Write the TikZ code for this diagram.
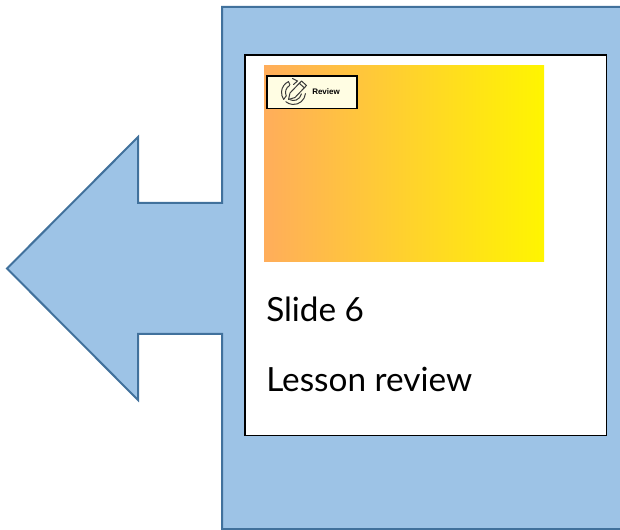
\documentclass[tikz,border=0pt]{standalone}
\usepackage{fontspec}
\setmainfont{Lato}
\newfontfamily\reviewfont{Liberation Sans}
\definecolor{panelfill}{HTML}{9DC3E6}
\definecolor{paneledge}{HTML}{41719C}
\definecolor{gradleft}{HTML}{FFAD5B}
\definecolor{gradright}{HTML}{FFF500}
\definecolor{cream}{HTML}{FFFDE3}
\definecolor{iconink}{HTML}{3A3A3A}
\tikzset{
  callout/.style={fill=panelfill,draw=paneledge,line width=1.5pt,line join=miter},
  slidebox/.style={fill=white,draw=black,line width=1.1pt},
  tagbox/.style={fill=cream,draw=black,line width=0.9pt},
  slidetext/.style={anchor=base west,inner sep=0pt,font=\fontsize{25}{29}\selectfont,text=black},
  icon/.style={draw=iconink,line width=0.75pt,line cap=round,line join=round}
}
\begin{document}
\begin{tikzpicture}[x=0.75pt,y=-0.75pt]
\useasboundingbox (0,0) rectangle (620,530);
\clip (0,0) rectangle (620,530);
% callout
\draw[callout] (222,7) -- (630,7) -- (630,529) -- (222,529) -- (222,334) -- (138,334) -- (138,400) -- (7,268.5) -- (138,137) -- (138,203) -- (222,203) -- cycle;
% slide
\draw[slidebox] (245,55) rectangle (606.5,435.5);
\shade[left color=gradleft,right color=gradright] (264,65.5) rectangle (544,262);
% tag
\draw[tagbox] (267,76) rectangle (357,108.5);
% icon: circular arrows, drawn about its centre with y pointing up
\begin{scope}[shift={(293.5,92.5)},x=0.75pt,y=0.75pt]
  \draw[icon] (115:12) arc[start angle=115,end angle=215,radius=12];
  \draw[icon] (120:8) arc[start angle=120,end angle=205,radius=8];
  \draw[icon] (115:12) -- (115:8.5);
  \draw[icon] (215:12) -- (205:8);
  \draw[icon] (-5:12) arc[start angle=-5,end angle=-130,radius=12];
  \draw[icon] (-10:8) arc[start angle=-10,end angle=-115,radius=8];
  \draw[icon] (-1,14) -- (4,11.5) -- (0,8);
  % pencil
  \draw[icon,fill=cream] (-5,-7) -- (-3.5,-0.5) -- (8,11.5) -- (13,7) -- (1.5,-5) -- cycle;
  \draw[icon] (5.8,9.2) -- (10.8,4.7);
\end{scope}
\node[anchor=base west,inner sep=0pt,font=\reviewfont\bfseries\fontsize{6}{7}\selectfont,text=black] (tagtext) at (312,95) {Review};
% texts
\node[slidetext] (slidenum) at (266,322) {Slide 6};
\node[slidetext] (lesson) at (266,391.5) {Lesson review};
\end{tikzpicture}
\end{document}
